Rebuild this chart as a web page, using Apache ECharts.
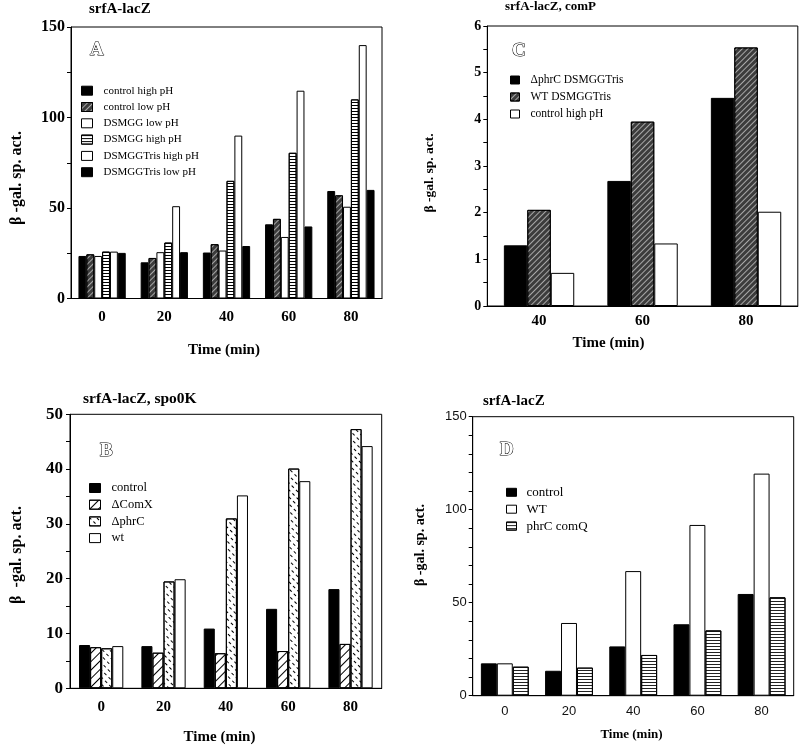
<!DOCTYPE html>
<html><head><meta charset="utf-8">
<script src="https://cdn.jsdelivr.net/npm/echarts@6/dist/echarts.min.js"></script>
<style>html,body{margin:0;padding:0;background:#fff;width:800px;height:747px;overflow:hidden}.p{position:absolute}</style>
</head><body>
<div id="pA" class="p" style="left:0;top:0;width:400px;height:370px"></div>
<div id="pC" class="p" style="left:400px;top:0;width:400px;height:370px"></div>
<div id="pB" class="p" style="left:0;top:370px;width:400px;height:377px"></div>
<div id="pD" class="p" style="left:400px;top:370px;width:400px;height:377px"></div>
<script>
// ---------- data ----------
const timeCats = ['0', '20', '40', '60', '80'];
const timeCatsC = ['40', '60', '80'];

// Panel A: srfA-lacZ
const namesA = ['control high pH', 'control low pH', 'DSMGG low pH', 'DSMGG high pH', 'DSMGGTris high pH', 'DSMGGTris low pH'];
const controlHighPH_A = [23.5, 20.0, 25.4, 41.0, 59.4];
const controlLowPH_A = [24.4, 22.4, 30.0, 44.0, 57.0];
const dsmggLowPH_A = [23.5, 25.6, 26.5, 34.0, 50.7];
const dsmggHighPH_A = [25.9, 30.9, 65.0, 80.5, 110.0];
const dsmggTrisHighPH_A = [25.9, 51.0, 90.0, 114.8, 140.0];
const dsmggTrisLowPH_A = [25.2, 25.6, 29.0, 39.8, 60.0];
const yTicksA = { max: 150, interval: 50 };

// Panel C: srfA-lacZ, comP
const namesC = ['\u0394phrC DSMGGTris', 'WT DSMGGTris', 'control high pH'];
const phrC_C = [1.30, 2.68, 4.46];
const wt_C = [2.06, 3.95, 5.54];
const control_C = [0.71, 1.34, 2.02];
const yTicksC = { max: 6, interval: 1 };

// Panel B: srfA-lacZ, spo0K
const namesB = ['control', '\u0394ComX', '\u0394phrC', 'wt'];
const control_B = [7.9, 7.7, 10.9, 14.5, 18.1];
const comX_B = [7.5, 6.5, 6.4, 6.8, 8.1];
const phrC_B = [7.3, 19.5, 31.0, 40.1, 47.3];
const wt_B = [7.7, 19.9, 35.2, 37.8, 44.2];
const yTicksB = { max: 50, interval: 10 };

// Panel D: srfA-lacZ
const namesD = ['control', 'WT', 'phrC comQ'];
const control_D = [17.4, 13.4, 26.5, 38.4, 54.7];
const wt_D = [17.4, 39.1, 67.0, 91.8, 119.4];
const phrCcomQ_D = [15.6, 15.1, 21.9, 35.1, 52.9];
const yTicksD = { max: 150, interval: 50 };

// ---------- styles ----------
const SERIF = '"Liberation Serif", "Times New Roman", serif';
const SANS = '"Liberation Sans", Arial, sans-serif';
const B = { borderColor: '#000', borderWidth: 1 };
const stBlack = Object.assign({ color: '#000' }, B);
const stWhite = Object.assign({ color: '#fff' }, B);
const stHatch = Object.assign({ color: '#3c3c3c', decal: { symbol: 'rect', symbolSize: 1, color: 'rgba(255,255,255,0.55)', dashArrayX: [1, 0], dashArrayY: [1, 2.2], rotation: -Math.PI / 4 } }, B);
const stHStripe = Object.assign({ color: '#fff', decal: { symbol: 'rect', symbolSize: 1, color: '#000', dashArrayX: [1, 0], dashArrayY: [1, 2], rotation: 0 } }, B);
const stDiag = Object.assign({ color: '#fff', decal: { symbol: 'rect', symbolSize: 1, color: '#000', dashArrayX: [1, 0], dashArrayY: [1, 5], rotation: -Math.PI / 4 } }, B);
const stDashDiag = Object.assign({ color: '#fff', decal: { symbol: 'rect', symbolSize: 1, color: '#000', dashArrayX: [3, 3], dashArrayY: [1, 4], rotation: Math.PI / 4 } }, B);
const stDense = Object.assign({ color: '#fff', decal: { symbol: 'rect', symbolSize: 1, color: '#222', dashArrayX: [1, 0], dashArrayY: [1, 1.2], rotation: 0 } }, B);

function panel(id, o) {
  const chart = echarts.init(document.getElementById(id), null, { renderer: 'canvas' });
  const tickFont = o.sansTicks
    ? { fontFamily: SANS, fontWeight: 'normal', color: '#111' }
    : { fontFamily: SERIF, fontWeight: 'bold', color: '#000' };
  chart.setOption({
    animation: false,
    title: {
      text: o.title, left: o.titlePos[0], top: o.titlePos[1], padding: 0,
      textStyle: { fontFamily: SERIF, fontWeight: 'bold', fontSize: o.titleSize, color: '#000' }
    },
    grid: {
      left: o.grid[0], top: o.grid[1], width: o.grid[2], height: o.grid[3],
      show: true, borderColor: '#000', borderWidth: 1, containLabel: false, outerBoundsMode: 'none'
    },
    legend: {
      orient: 'vertical', left: o.legend.left, top: o.legend.top, padding: 0,
      itemWidth: o.legend.w, itemHeight: o.legend.h, itemGap: o.legend.gap,
      icon: 'rect', selectedMode: false,
      itemStyle: { borderColor: '#000', borderWidth: 1 },
      textStyle: {
        fontFamily: SERIF, fontSize: o.legend.fs, lineHeight: o.legend.lh, color: '#000',
        padding: [0, 0, 0, o.legend.tp]
      },
      data: o.series.map(s => s.name)
    },
    xAxis: {
      type: 'category', data: o.cats,
      axisLine: { lineStyle: { color: '#000', width: 1 } },
      axisTick: { length: 4, lineStyle: { color: '#000' } },
      axisLabel: Object.assign({ margin: o.xMargin, fontSize: o.xFs }, tickFont)
    },
    yAxis: {
      type: 'value', min: 0, max: o.y.max, interval: o.y.interval,
      splitLine: { show: false },
      axisLine: { show: true, lineStyle: { color: '#000', width: 1 } },
      axisTick: { show: true, length: 4, lineStyle: { color: '#000' } },
      minorTick: { show: true, splitNumber: o.minorSplit, length: 4, lineStyle: { color: '#000' } },
      axisLabel: Object.assign({ margin: o.yMargin, fontSize: o.yFs }, tickFont)
    },
    series: o.series.map(s => ({
      type: 'bar', name: s.name, data: s.data,
      barGap: '0%', barCategoryGap: o.gap,
      itemStyle: s.style
    })),
    graphic: [
      { type: 'text', x: o.letter[0], y: o.letter[1], silent: true,
        style: { text: o.letter[2], font: 'bold ' + o.letter[3] + 'px ' + SERIF, fill: '#fff', stroke: '#000', lineWidth: 1, textVerticalAlign: 'top' } },
      { type: 'text', x: o.yName[0], y: o.yName[1], rotation: Math.PI / 2, silent: true,
        style: { text: o.yName[2], font: 'bold ' + o.yName[3] + 'px ' + SERIF, fill: '#000', textAlign: 'center', textVerticalAlign: 'middle' } },
      { type: 'text', x: o.xName[0], y: o.xName[1], silent: true,
        style: { text: 'Time (min)', font: 'bold ' + o.xName[2] + 'px ' + SERIF, fill: '#000', textAlign: 'center', textVerticalAlign: 'middle' } }
    ]
  });
}

panel('pA', {
  title: 'srfA-lacZ', titlePos: [89, 2], titleSize: 15,
  grid: [71, 27, 311, 271.5], cats: timeCats, y: yTicksA, minorSplit: 2,
  xMargin: 11, xFs: 15, yMargin: 6, yFs: 16, gap: '24%',
  legend: { left: 81, top: 84.7, w: 11, h: 9, gap: 4.3, fs: 11, lh: 12, tp: 6 },
  letter: [90, 41, 'A', 19], yName: [17, 178, '\u03B2 -gal. sp. act.', 16], xName: [224, 350, 15],
  series: [
    { name: namesA[0], data: controlHighPH_A, style: stBlack },
    { name: namesA[1], data: controlLowPH_A, style: stHatch },
    { name: namesA[2], data: dsmggLowPH_A, style: stWhite },
    { name: namesA[3], data: dsmggHighPH_A, style: stHStripe },
    { name: namesA[4], data: dsmggTrisHighPH_A, style: stWhite },
    { name: namesA[5], data: dsmggTrisLowPH_A, style: stBlack }
  ]
});

panel('pC', {
  title: 'srfA-lacZ, comP', titlePos: [105, 0], titleSize: 13,
  grid: [87.3, 26, 310.5, 280], cats: timeCatsC, y: yTicksC, minorSplit: 2,
  xMargin: 8, xFs: 15, yMargin: 6, yFs: 14, gap: '32%',
  legend: { left: 110, top: 74, w: 9, h: 8, gap: 5, fs: 11.5, lh: 12, tp: 6 },
  letter: [112, 42, 'C', 19], yName: [30, 173, '\u03B2 -gal. sp. act.', 13.5], xName: [208.5, 343, 15],
  series: [
    { name: namesC[0], data: phrC_C, style: stBlack },
    { name: namesC[1], data: wt_C, style: stHatch },
    { name: namesC[2], data: control_C, style: stWhite }
  ]
});

panel('pB', {
  title: 'srfA-lacZ, spo0K', titlePos: [83, 21], titleSize: 15.5,
  grid: [70, 44.3, 311.7, 274], cats: timeCats, y: yTicksB, minorSplit: 2,
  xMargin: 11, xFs: 15, yMargin: 7, yFs: 17, gap: '29%',
  legend: { left: 89, top: 111.5, w: 11, h: 9, gap: 3.7, fs: 12.5, lh: 13, tp: 6 },
  letter: [100, 72, 'B', 19], yName: [17, 185, '\u03B2  -gal. sp. act.', 16], xName: [219.5, 366.7, 15],
  series: [
    { name: namesB[0], data: control_B, style: stBlack },
    { name: namesB[1], data: comX_B, style: stDiag },
    { name: namesB[2], data: phrC_B, style: stDashDiag },
    { name: namesB[3], data: wt_B, style: stWhite }
  ]
});

panel('pD', {
  title: 'srfA-lacZ', titlePos: [83, 24], titleSize: 15,
  grid: [72.7, 46.7, 321, 279], cats: timeCats, y: yTicksD, minorSplit: 5,
  xMargin: 9, xFs: 13, yMargin: 6, yFs: 13, gap: '25.5%', sansTicks: true,
  legend: { left: 106, top: 115.8, w: 10, h: 8, gap: 3.9, fs: 13, lh: 13, tp: 5 },
  letter: [100, 71, 'D', 19], yName: [20, 175, '\u03B2 -gal. sp. act.', 14], xName: [231.5, 365, 13],
  series: [
    { name: namesD[0], data: control_D, style: stBlack },
    { name: namesD[1], data: wt_D, style: stWhite },
    { name: namesD[2], data: phrCcomQ_D, style: stDense }
  ]
});
</script>
</body></html>
